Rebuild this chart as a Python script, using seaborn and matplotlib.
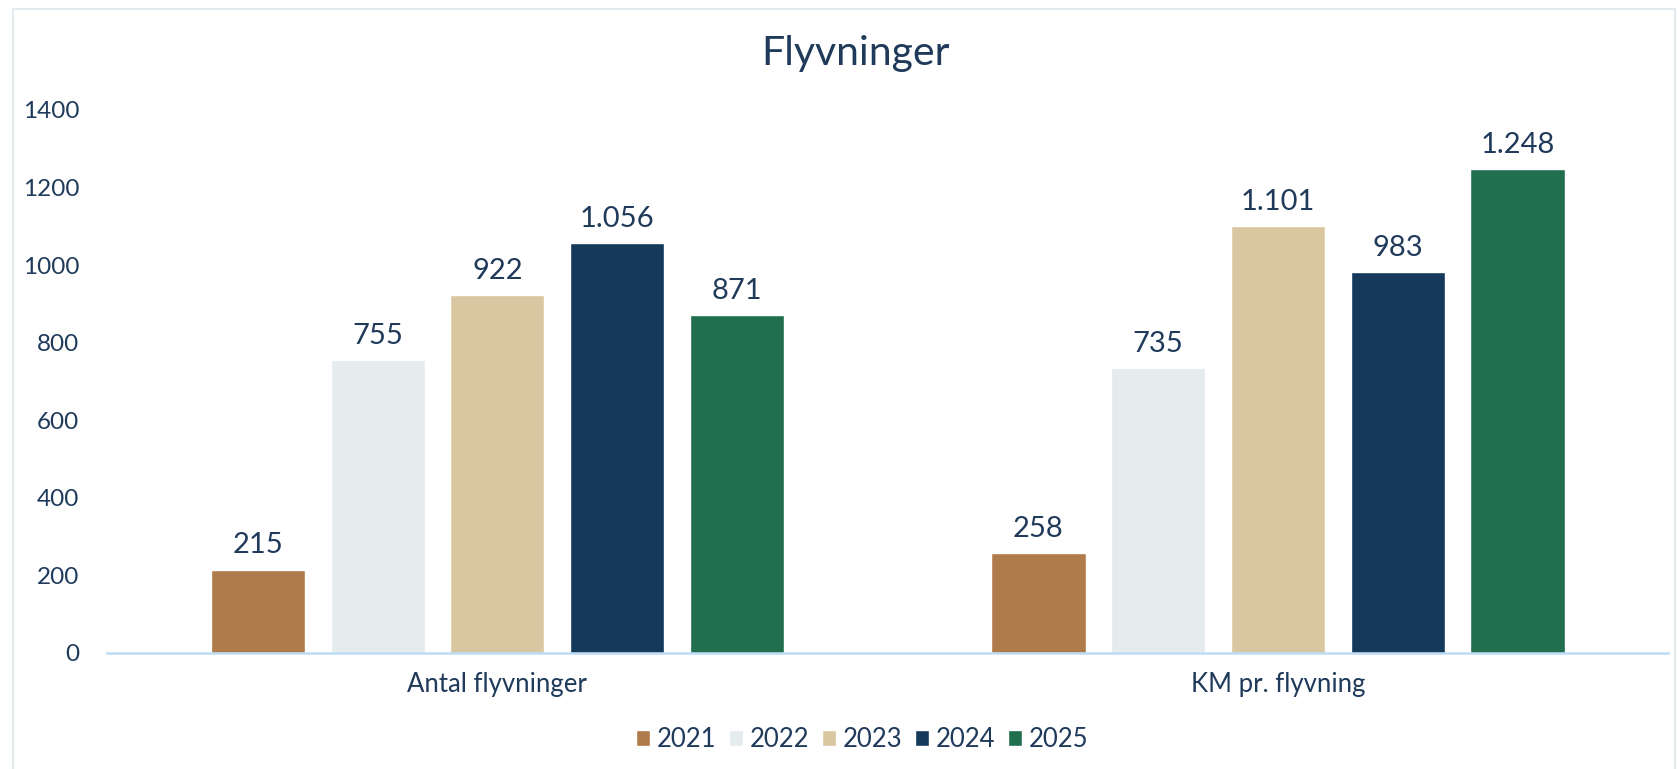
import pandas as pd
import numpy as np
import seaborn as sns
import matplotlib.pyplot as plt
from matplotlib.patches import Rectangle

# data
kategorier = ['Antal flyvninger', 'KM pr. flyvning']
aar = ['2021', '2022', '2023', '2024', '2025']
antal_flyvninger = [215, 755, 922, 1056, 871]
km_pr_flyvning = [258, 735, 1101, 983, 1248]
farver = ['#B07B4A', '#E4ECEE', '#D9C7A1', '#15395A', '#216F4E']

dados = pd.DataFrame({
    'kategori': [kategorier[0]] * 5 + [kategorier[1]] * 5,
    'aar': aar * 2,
    'vaerdi': antal_flyvninger + km_pr_flyvning,
})

sns.set_style('white')
plt.rcParams['font.family'] = ['Lato', 'DejaVu Sans']
tekst = '#1F3A5A'

fig = plt.figure(figsize=(16.77, 7.69), dpi=100)
ax = fig.add_axes([0.0638, 0.151, 0.931, 0.706])

sns.barplot(data=dados, x='kategori', y='vaerdi', hue='aar', palette=farver,
            width=0.767, gap=0.214, ax=ax, saturation=1, legend=True)

# labels over søjlerne
for cont in ax.containers:
    ax.bar_label(cont, labels=[f'{v:,.0f}'.replace(',', '.') for v in cont.datavalues],
                 padding=8, fontsize=21, color=tekst)

ax.set_ylim(0, 1400)
ax.set_xlim(-0.5, 1.5)
ax.set_yticks(range(0, 1401, 200))
ax.set_xlabel('')
ax.set_ylabel('')
ax.tick_params(axis='x', length=0, labelsize=18.5, colors=tekst, pad=14)
ax.tick_params(axis='y', length=0, labelsize=17.5, colors=tekst, pad=20)
for s in ['top', 'right', 'left']:
    ax.spines[s].set_visible(False)
ax.spines['bottom'].set_color('#BDDCF5')
ax.spines['bottom'].set_linewidth(1.8)

fig.text(0.51, 0.93, 'Flyvninger', ha='center', va='center', fontsize=29.5, color=tekst)

leg = ax.legend(loc='center', ncol=5, frameon=False,
                fontsize=18.5, handlelength=0.55, handleheight=0.55, handletextpad=0.25,
                columnspacing=0.5, labelcolor=tekst)
leg.set_bbox_to_anchor((0.514, 0.038), transform=fig.transFigure)

fig.patches.append(Rectangle((13 / 1677, -0.01), 1 - 13 / 1677 - 0.001, 1 - 9 / 769 + 0.01,
                             transform=fig.transFigure, fill=False,
                             edgecolor='#E3E9EC', linewidth=1.5))

plt.savefig('out.png', dpi=100)
